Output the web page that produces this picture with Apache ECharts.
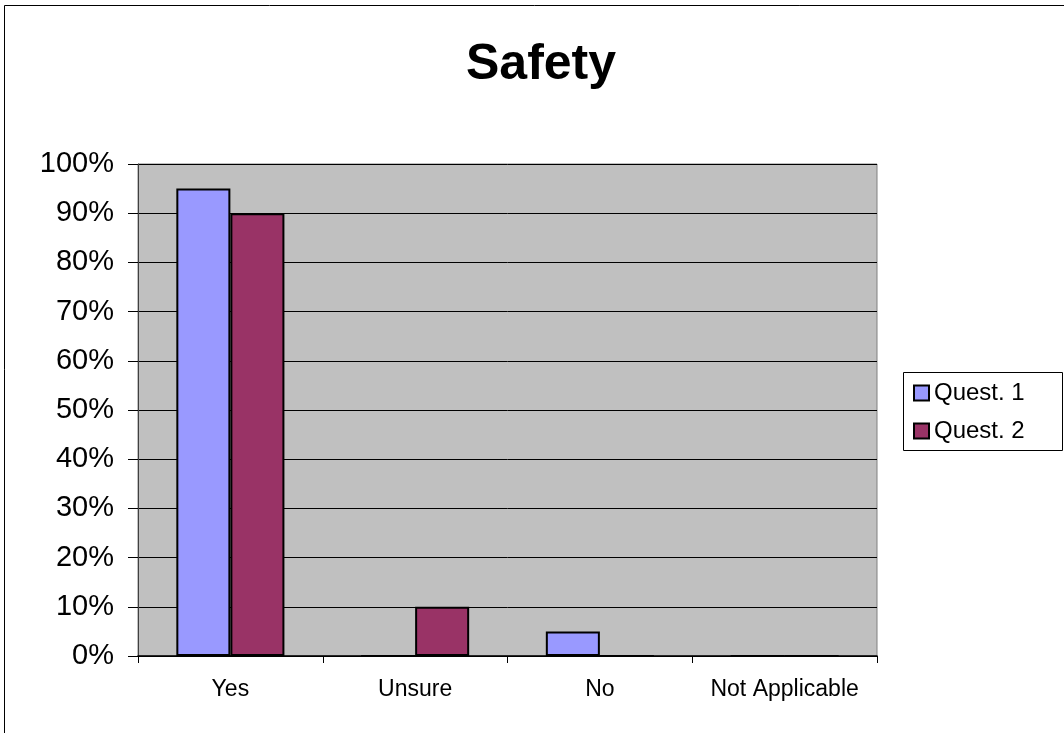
<!DOCTYPE html>
<html>
<head>
<meta charset="utf-8">
<title>Safety</title>
<script src="https://cdn.jsdelivr.net/npm/echarts@6/dist/echarts.min.js"></script>
<style>
  html, body { margin: 0; padding: 0; background: #ffffff; }
  #chart { width: 1064px; height: 733px; }
</style>
</head>
<body>
<div id="chart"></div>
<script>
// Survey answers on safety, share of respondents per answer (percent)
const categories = ['Yes', 'Unsure', 'No', 'Not Applicable'];
const quest1 = [95, 0, 5, 0];
const quest2 = [90, 10, 0, 0];
const seriesNames = ['Quest. 1', 'Quest. 2'];

const FONT = '"Liberation Sans", Arial, sans-serif';

const chart = echarts.init(document.getElementById('chart'), null, { renderer: 'canvas' });

chart.setOption({
  backgroundColor: '#ffffff',
  animation: false,
  title: {
    text: 'Safety',
    left: 466,
    top: 40,
    padding: 0,
    textStyle: { fontFamily: FONT, fontSize: 50, fontWeight: 'bold', color: '#000' }
  },
  graphic: [
    {
      // outer chart frame
      type: 'rect',
      silent: true,
      z: -10,
      shape: { x: 4.5, y: 5.5, width: 1200, height: 900 },
      style: { fill: 'none', stroke: '#000', lineWidth: 1 }
    },
    {
      // legend frame
      type: 'rect',
      silent: true,
      shape: { x: 903.5, y: 372.5, width: 159, height: 78 },
      style: { fill: '#fff', stroke: '#000', lineWidth: 1 },
      z: 0
    }
  ],
  legend: {
    orient: 'vertical',
    left: 913,
    top: 381,
    padding: 0,
    itemWidth: 15,
    itemHeight: 15,
    itemGap: 14,
    itemTextGap: 5,
    icon: 'rect',
    z: 5,
    data: seriesNames,
    textStyle: { fontFamily: FONT, fontSize: 24, color: '#000' }
  },
  grid: {
    left: 138,
    right: 187,
    top: 164,
    bottom: 77,
    show: true,
    backgroundColor: '#c0c0c0',
    borderColor: '#808080',
    borderWidth: 1,
    containLabel: false
  },
  xAxis: {
    type: 'category',
    data: categories,
    axisLine: { show: true, lineStyle: { color: '#000', width: 1.5 } },
    axisTick: { show: true, interval: 0, alignWithLabel: false, length: 7, lineStyle: { color: '#000' } },
    axisLabel: { interval: 0, fontFamily: FONT, fontSize: 23, color: '#000', margin: 22 },
    splitLine: { show: false }
  },
  yAxis: {
    type: 'value',
    min: 0,
    max: 100,
    interval: 10,
    axisLine: { show: true, lineStyle: { color: '#404040', width: 1 } },
    axisTick: { show: true, length: 10, lineStyle: { color: '#000' } },
    axisLabel: { fontFamily: FONT, fontSize: 29, color: '#000', margin: 24, formatter: '{value}%' },
    splitLine: { show: true, lineStyle: { color: '#000', width: 1 } }
  },
  series: [
    {
      name: seriesNames[0],
      type: 'bar',
      data: quest1,
      barGap: '0%',
      barCategoryGap: '41.5%',
      itemStyle: { color: '#9999ff', borderColor: '#000', borderWidth: 2 }
    },
    {
      name: seriesNames[1],
      type: 'bar',
      data: quest2,
      barGap: '0%',
      barCategoryGap: '41.5%',
      itemStyle: { color: '#993366', borderColor: '#000', borderWidth: 2 }
    }
  ]
});
</script>
</body>
</html>
